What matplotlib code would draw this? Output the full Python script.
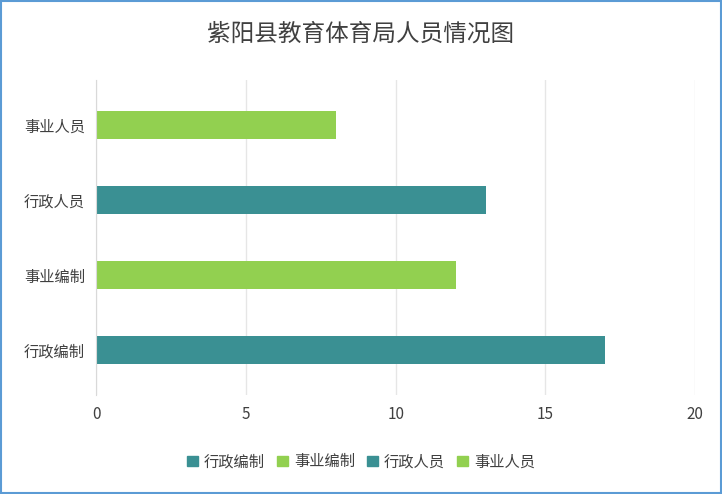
import matplotlib
matplotlib.use("Agg")
import matplotlib.pyplot as plt
from matplotlib.patches import Rectangle, Patch

plt.rcParams["font.family"] = "Noto Sans CJK SC"

categories = ["行政编制", "事业编制", "行政人员", "事业人员"]
values = [17, 12, 13, 8]
colors = ["#3a9093", "#92d050", "#3a9093", "#92d050"]
xticks = [0, 5, 10, 15, 20]

fig = plt.figure(figsize=(7.22, 4.94), dpi=100)
ax = fig.add_axes([0.133, 0.2, 0.83, 0.638])
ax.barh(range(len(categories)), values, height=0.38, color=colors)
ax.set_yticks(range(len(categories)))
ax.set_yticklabels(categories, fontsize=11, color="#404040")
ax.set_xlim(0, 20)
ax.set_ylim(-0.6, 3.6)
ax.set_xticks(xticks)
ax.set_xticklabels([str(t) for t in xticks], fontsize=11, color="#404040")
ax.grid(axis="x", color="#e6e6e6", linewidth=1)
ax.set_axisbelow(True)
for s in ["top", "right", "bottom"]:
    ax.spines[s].set_visible(False)
ax.spines["left"].set_color("#d9d9d9")
ax.tick_params(length=0, pad=8)

fig.suptitle("紫阳县教育体育局人员情况图", y=0.955, fontsize=17, color="#404040")
handles = [Patch(color=c, label=l) for c, l in zip(colors, categories)]
fig.legend(handles=handles, loc="center", bbox_to_anchor=(0.5, 0.065), ncol=4,
           frameon=False, fontsize=11, handlelength=0.7, handleheight=0.7,
           columnspacing=0.8, handletextpad=0.4, labelcolor="#404040")
fig.patches.append(Rectangle((0.001, 0.002), 0.997, 0.995, transform=fig.transFigure,
                             fill=False, edgecolor="#5b9bd5", linewidth=1.5))
fig.savefig("out.png", dpi=100)
